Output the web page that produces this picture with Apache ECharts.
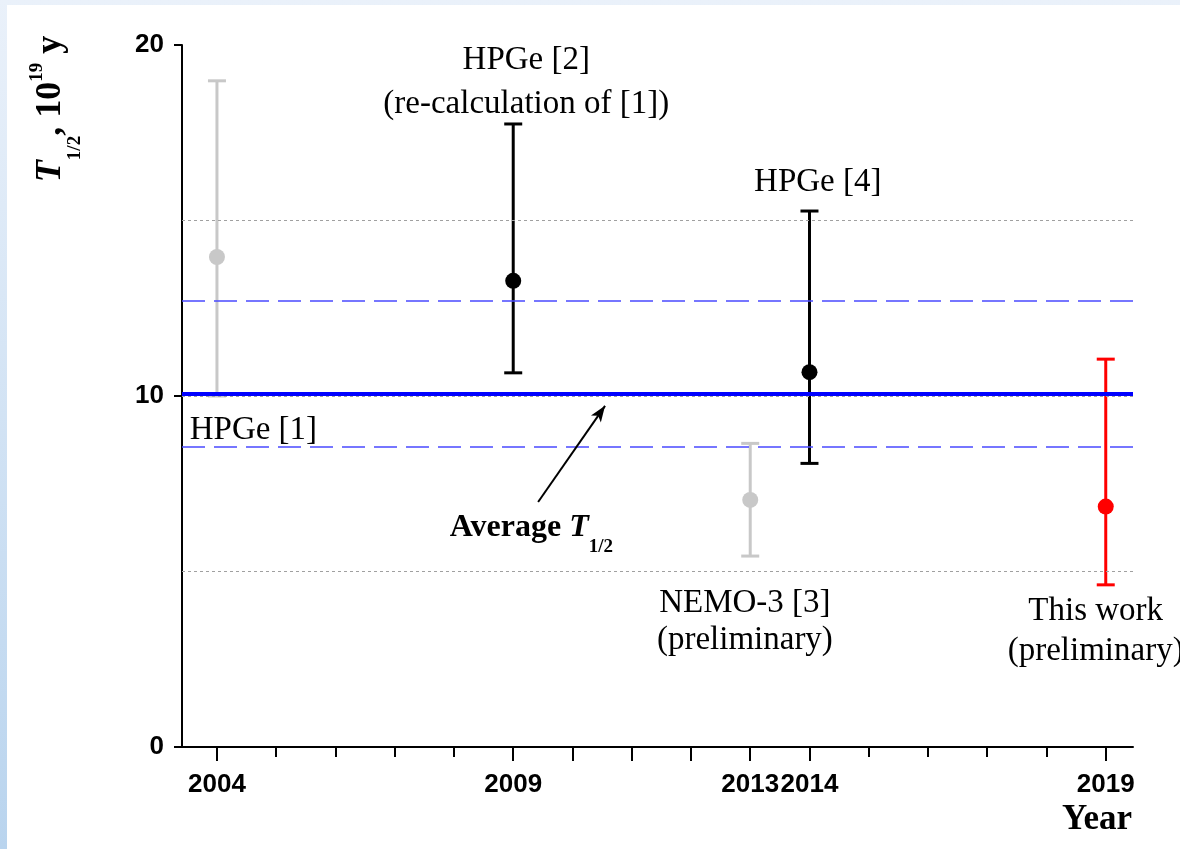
<!DOCTYPE html>
<html>
<head>
<meta charset="utf-8">
<script src="https://cdn.jsdelivr.net/npm/echarts@6/dist/echarts.min.js"></script>
<style>
  html, body { margin: 0; padding: 0; width: 1180px; height: 849px; overflow: hidden;
    background: linear-gradient(to bottom, #eaf1fa, #b9d4ee); }
  #chart { position: absolute; left: 7px; top: 5px; width: 1173px; height: 844px; background: #fff; }
</style>
</head>
<body>
<div id="chart"></div>
<script>
// Half-life measurements, units of 10^19 y
const years     = [2004, 2009, 2013, 2014, 2019];
const halfLife  = [13.96, 13.28, 7.04, 10.68, 6.85];
const errLow    = [10.0, 10.66, 5.44, 8.08, 4.62];
const errHigh   = [18.98, 17.75, 8.65, 15.27, 11.05];
const pointColors = ['#c8c8c8', '#000000', '#c8c8c8', '#000000', '#ff0000'];

// Average and its band, plus light guide levels
const averageT = 10.05;
const bandLevels = [12.7, 8.56];
const guideLevels = [5, 10, 15];

// Axis ticks and labels
const yearLabels = [2004, 2009, 2013, 2014, 2019];
const majorTickYears = [2004, 2009, 2010, 2011, 2012, 2013, 2014, 2019];
const minorTickYears = [2005, 2006, 2007, 2008, 2015, 2016, 2017, 2018];
const yTicks = [0, 10, 20];

// Text notes anchored in data coordinates
const notes = [
  { text: 'HPGe [1]', at: [2003.54, 9.03], align: 'left', lh: 36 },
  { text: 'HPGe [2]\n(re-calculation of [1])', at: [2009.22, 18.95], align: 'center', lh: 44 },
  { text: 'HPGe [4]', at: [2014.14, 16.1], align: 'center', lh: 36 },
  { text: 'NEMO-3 [3]\n(preliminary)', at: [2012.91, 3.58], align: 'center', lh: 37 },
  { text: 'This work\n(preliminary)', at: [2018.83, 3.3], align: 'center', lh: 40 }
];
const averageNote = { at: [2007.93, 6.06] };
const arrowFrom = [2009.42, 6.98];
const arrowTo = [2010.55, 9.72];

const serif = 'Liberation Serif, Times New Roman, serif';
const sans = 'Liberation Sans, Arial, sans-serif';

const chart = echarts.init(document.getElementById('chart'), null, { renderer: 'canvas' });

const hLine = (v, color, type, width) => ({
  yAxis: v,
  lineStyle: { color: color, type: type, width: width }
});

const option = {
  animation: false,
  backgroundColor: '#ffffff',
  grid: { left: 175, top: 40, right: 47, bottom: 102, containLabel: false },
  xAxis: [
    {
      type: 'value', min: 2003.41, max: 2019.46, position: 'bottom',
      axisLine: { show: true, lineStyle: { color: '#000', width: 2 } },
      axisTick: { show: true, customValues: majorTickYears, length: 14, lineStyle: { color: '#000', width: 2 } },
      axisLabel: { show: true, customValues: yearLabels, margin: 25, color: '#000',
        fontFamily: sans, fontWeight: 'bold', fontSize: 26, formatter: v => String(v) },
      splitLine: { show: false }
    },
    {
      type: 'value', min: 2003.41, max: 2019.46, position: 'bottom', offset: 0,
      axisLine: { show: false },
      axisTick: { show: true, customValues: minorTickYears, length: 10, lineStyle: { color: '#000', width: 2 } },
      axisLabel: { show: false },
      splitLine: { show: false }
    }
  ],
  yAxis: {
    type: 'value', min: 0, max: 20, interval: 10,
    axisLine: { show: true, lineStyle: { color: '#000', width: 2 } },
    axisTick: { show: true, length: 8, lineStyle: { color: '#000', width: 2 } },
    axisLabel: { show: true, margin: 18, color: '#000', fontFamily: sans, fontWeight: 'bold', fontSize: 26,
      formatter: v => (yTicks.indexOf(v) >= 0 ? String(v) : '') },
    splitLine: { show: false }
  },
  series: [
    {
      // reference levels
      type: 'line', data: [], silent: true, z: 1,
      markLine: {
        silent: true, symbol: 'none', label: { show: false },
        data: [
          ...guideLevels.map(v => hLine(v, '#a0a0a0', [3, 3], 1)),
          ...bandLevels.map(v => hLine(v, '#4a4aff', [23, 9], 1.6)),
          hLine(averageT, '#0000ff', 'solid', 4)
        ]
      }
    },
    {
      // error bars
      type: 'custom', z: 3,
      data: years.map((y, i) => [y, errLow[i], errHigh[i]]),
      renderItem: function (params, api) {
        const x = api.value(0);
        const pLo = api.coord([x, api.value(1)]);
        const pHi = api.coord([x, api.value(2)]);
        const c = pointColors[params.dataIndex];
        const cap = 9;
        const st = { stroke: c, lineWidth: 3 };
        return {
          type: 'group',
          children: [
            { type: 'line', shape: { x1: pLo[0], y1: pLo[1], x2: pHi[0], y2: pHi[1] }, style: st },
            { type: 'line', shape: { x1: pLo[0] - cap, y1: pLo[1], x2: pLo[0] + cap, y2: pLo[1] }, style: st },
            { type: 'line', shape: { x1: pHi[0] - cap, y1: pHi[1], x2: pHi[0] + cap, y2: pHi[1] }, style: st }
          ]
        };
      }
    },
    {
      // measured values
      type: 'scatter', z: 4, symbol: 'circle', symbolSize: 16,
      itemStyle: { opacity: 1 },
      data: years.map((y, i) => ({ value: [y, halfLife[i]], itemStyle: { color: pointColors[i], opacity: 1 } }))
    },
    {
      // notes and the arrow to the average
      type: 'scatter', z: 5, symbolSize: 0, silent: true,
      itemStyle: { opacity: 1 },
      data: [
        ...notes.map(n => ({
          value: n.at,
          label: {
            show: true, position: 'inside', formatter: n.text, align: n.align, verticalAlign: 'middle',
            fontFamily: serif, fontSize: 33, lineHeight: n.lh, color: '#000000', opacity: 1
          }
        })),
        {
          value: averageNote.at,
          label: {
            show: true, position: 'inside', align: 'left', verticalAlign: 'middle', opacity: 1,
            formatter: '{a|Average }{t|T}{s|1/2}',
            rich: {
              a: { fontFamily: serif, fontWeight: 'bold', fontSize: 32, color: '#000', verticalAlign: 'top', padding: [0, 0, 0, 0] },
              t: { fontFamily: serif, fontWeight: 'bold', fontStyle: 'italic', fontSize: 32, color: '#000', verticalAlign: 'top', padding: [0, 0, 0, 0] },
              s: { fontFamily: serif, fontWeight: 'bold', fontSize: 19, color: '#000', verticalAlign: 'top', padding: [26, 0, 0, 0] }
            }
          }
        }
      ],
      markLine: {
        silent: true, label: { show: false },
        symbol: ['none', 'arrow'], symbolSize: [9, 16],
        lineStyle: { color: '#000', type: 'solid', width: 2 },
        data: [[{ coord: arrowFrom }, { coord: arrowTo }]]
      }
    }
  ],
  graphic: [
    {
      type: 'text', x: 49, y: 104, rotation: Math.PI / 2,
      style: {
        text: '{t|T}{s|1/2}{n|, 10}{p|19}{n| y}',
        align: 'center', verticalAlign: 'middle',
        rich: {
          t: { fontFamily: serif, fontWeight: 'bold', fontStyle: 'italic', fontSize: 36, fill: '#000', verticalAlign: 'top', padding: [5, 0, 0, 0] },
          n: { fontFamily: serif, fontWeight: 'bold', fontSize: 36, fill: '#000', verticalAlign: 'top', padding: [5, 0, 0, 0] },
          s: { fontFamily: serif, fontWeight: 'bold', fontSize: 19, fill: '#000', verticalAlign: 'top', padding: [38, 0, 0, 0] },
          p: { fontFamily: serif, fontWeight: 'bold', fontSize: 19, fill: '#000', verticalAlign: 'top', padding: [0, 0, 0, 0] }
        }
      }
    },
    {
      type: 'text', x: 1125, y: 815,
      style: { text: 'Year', fontFamily: serif, fontWeight: 'bold', fontSize: 35, fill: '#000',
        align: 'right', verticalAlign: 'middle' }
    }
  ]
};

chart.setOption(option);
</script>
</body>
</html>
